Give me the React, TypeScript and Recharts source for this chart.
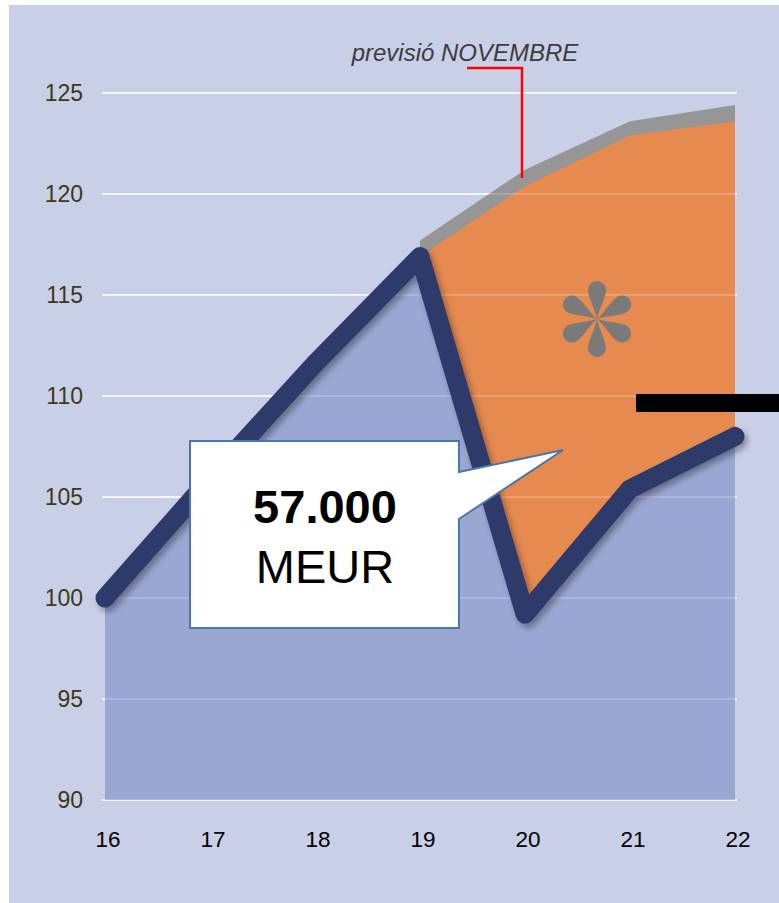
import { ComposedChart, Area, Line, XAxis, YAxis, CartesianGrid, ReferenceLine } from "recharts";

const years = [16, 17, 18, 19, 20, 21, 22];
const actual = [100, 105.9, 111.6, 116.9, 99.2, 105.4, 108.0];
const forecast = [null, null, null, 116.9, 120.4, 122.9, 123.6];
const novemberForecast = [null, null, null, 117.7, 121.2, 123.6, 124.4];
const yTicks = [90, 95, 100, 105, 110, 115, 120, 125];

const data = years.map((year, i) => ({
  year,
  actual: actual[i],
  forecast: forecast[i],
  november: novemberForecast[i],
}));

const FONT = "'Liberation Sans', Arial, sans-serif";

function Asterisk({ cx, cy }: { cx: number; cy: number }) {
  const spokes = [0, 60, 120, 180, 240, 300];
  return (
    <g fill="#7a7a7a">
      {spokes.map((a) => (
        <path
          key={a}
          transform={`translate(${cx},${cy}) rotate(${a})`}
          d="M0,0 C-2,-10 -9,-22 -9,-29 A9,9 0 1 1 9,-29 C9,-22 2,-10 0,0 Z"
        />
      ))}
    </g>
  );
}

export default function App() {
  return (
    <div style={{ position: "absolute", left: 0, top: 0, width: 779, height: 903, background: "#ffffff", fontFamily: FONT }}>
      <div style={{ position: "absolute", left: 9, top: 5, width: 770, height: 898, background: "#cacfe8" }} />
      <div style={{ position: "absolute", left: 0, top: 0 }}>
        <ComposedChart width={779} height={903} data={data} margin={{ top: 93, right: 42, bottom: 63, left: 42 }}>
          <defs>
            <filter id="lineShadow" x="-10%" y="-10%" width="130%" height="130%">
              <feDropShadow dx="3" dy="4" stdDeviation="3" floodColor="#000" floodOpacity="0.35" />
            </filter>
          </defs>
          <CartesianGrid vertical={false} stroke="#ffffff" strokeWidth={1.3} />
          <XAxis
            dataKey="year"
            type="number"
            domain={[16, 22]}
            ticks={years}
            padding={{ left: 3, right: 2 }}
            axisLine={false}
            tickLine={false}
            tickMargin={25}
            height={40}
            tick={{ fill: "#000000", fontSize: 22.5, fontFamily: FONT, dx: 3 }}
          />
          <YAxis
            domain={[90, 125]}
            ticks={yTicks}
            axisLine={false}
            tickLine={false}
            tickMargin={13}
            width={60}
            tick={{ fill: "#3a3a16", fontSize: 23, fontFamily: FONT }}
          />
          <Area type="linear" dataKey="november" stroke="none" fill="#969696" fillOpacity={1} isAnimationActive={false} />
          <Area type="linear" dataKey="forecast" stroke="none" fill="#e68a50" fillOpacity={1} isAnimationActive={false} />
          <Area type="linear" dataKey="actual" stroke="none" fill="#9ba7d3" fillOpacity={1} isAnimationActive={false} />
          {yTicks.map((t) => (
            <ReferenceLine key={t} y={t} stroke="#ffffff" strokeOpacity={0.25} strokeWidth={1.3} />
          ))}
          <Line
            type="linear"
            dataKey="actual"
            stroke="#2e3a6b"
            strokeWidth={19}
            strokeLinecap="round"
            strokeLinejoin="round"
            dot={false}
            activeDot={false}
            filter="url(#lineShadow)"
            isAnimationActive={false}
          />
        </ComposedChart>
      </div>
      <svg width={779} height={903} style={{ position: "absolute", left: 0, top: 0, pointerEvents: "none" }}>
        <text x={465} y={61} textAnchor="middle" fontStyle="italic" fontSize={24} fill="#3c3c3c" fontFamily={FONT}>
          previsió NOVEMBRE
        </text>
        <polyline points="467,68 522,68 522,178" fill="none" stroke="#ff0000" strokeWidth={2.5} />
        <Asterisk cx={597} cy={319} />
        <rect x={636} y={394} width={143} height={18} fill="#000000" />
        <path
          d="M190,441 L459,441 L459,472 L563,450 L459,519 L459,628 L190,628 Z"
          fill="#ffffff"
          stroke="#4a78a6"
          strokeWidth={2}
        />
        <text x={325} y={523} textAnchor="middle" fontWeight="bold" fontSize={47} fill="#000000" fontFamily={FONT}>
          57.000
        </text>
        <text x={325} y={583} textAnchor="middle" fontSize={47} fill="#000000" fontFamily={FONT}>
          MEUR
        </text>
      </svg>
    </div>
  );
}
